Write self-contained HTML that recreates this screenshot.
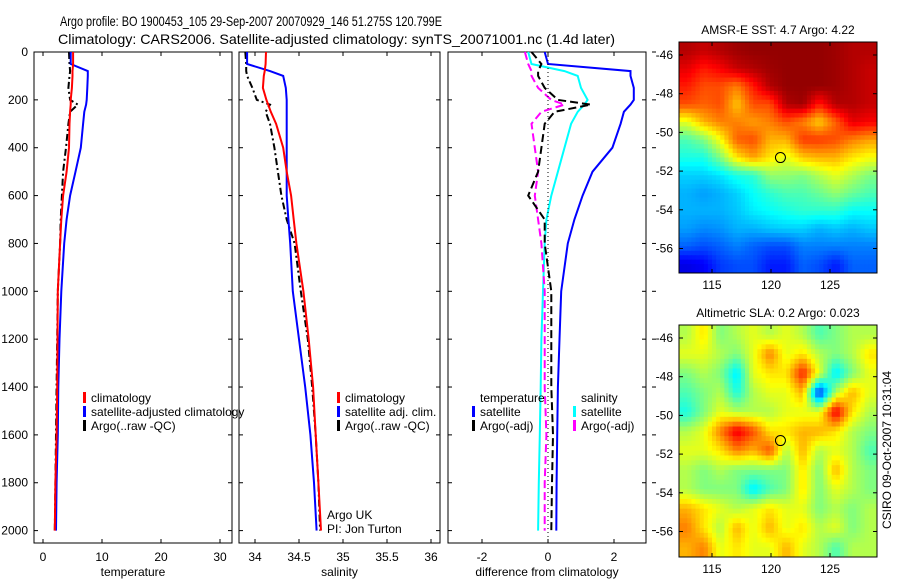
<!DOCTYPE html>
<html><head><meta charset="utf-8"><style>
body{margin:0;background:#fff;}
svg{display:block;font-family:"Liberation Sans",sans-serif;}
</style></head><body>
<svg id="fig" width="900" height="580" viewBox="0 0 900 580">
<text x="60" y="26" font-size="14" textLength="382" lengthAdjust="spacingAndGlyphs">Argo profile: BO 1900453_105 29-Sep-2007 20070929_146 51.275S 120.799E</text>
<text x="58" y="44" font-size="14" textLength="557" lengthAdjust="spacingAndGlyphs">Climatology: CARS2006. Satellite-adjusted climatology: synTS_20071001.nc (1.4d later)</text>
<g id="layer"></g>
</svg>
<script>
// ---- profile data ----
const depths = [0,50,80,100,150,200,220,250,300,400,500,600,700,800,1000,1200,1400,1600,1800,2000];
const tempClim = [5.1,5.1,5.0,5.0,4.9,4.7,4.7,4.6,4.5,4.4,4.0,3.4,3.1,2.9,2.5,2.45,2.4,2.3,2.1,2.0];
const tempSat  = [4.7,4.7,7.6,7.6,7.5,7.4,7.3,7.0,6.8,6.4,5.5,4.6,4.0,3.6,3.1,2.8,2.6,2.5,2.3,2.2];
const tempArgo = [4.4,4.5,4.6,4.5,4.3,4.6,5.9,4.6,4.3,3.9,3.4,3.2,3.0,2.9,2.5,2.4,2.3,2.2,2.1,2.0];
const salClim = [34.125,34.12,34.11,34.10,34.09,34.13,34.15,34.18,34.24,34.32,34.36,34.41,34.44,34.47,34.55,34.61,34.66,34.69,34.72,34.75];
const salSat  = [33.91,33.91,34.17,34.32,34.35,34.36,34.36,34.36,34.36,34.36,34.36,34.36,34.38,34.40,34.43,34.50,34.57,34.63,34.67,34.70];
const salArgo = [33.89,33.90,33.90,33.91,33.97,34.02,34.17,34.12,34.17,34.22,34.26,34.30,34.36,34.45,34.52,34.60,34.65,34.69,34.72,34.74];
const diffTSat  = [-0.1,0.0,2.5,2.5,2.6,2.6,2.5,2.3,2.2,1.95,1.35,1.05,0.8,0.6,0.4,0.35,0.3,0.28,0.26,0.25];
const diffTArgo = [-0.5,-0.2,-0.3,-0.3,-0.1,0.3,1.3,0.2,-0.1,-0.2,-0.3,-0.6,-0.1,-0.1,0.1,0.1,0.1,0.15,0.12,0.1];
const diffSSat  = [-0.6,-0.5,0.5,0.9,1.0,1.2,1.1,0.9,0.7,0.5,0.3,0.1,-0.05,-0.1,-0.15,-0.2,-0.22,-0.25,-0.28,-0.3];
const diffSArgo = [-0.7,-0.6,-0.5,-0.5,-0.3,0.1,0.5,-0.2,-0.5,-0.4,-0.3,-0.4,-0.3,-0.2,-0.1,-0.1,-0.1,-0.05,-0.1,-0.1];
const depthTicks = [0,200,400,600,800,1000,1200,1400,1600,1800,2000];
const tempTicks = [0,10,20,30];
const salTicks = [34,34.5,35,35.5,36];
const diffTicks = [-2,0,2];
// ---- map data (jet colormap fraction 0..1), rows north->south ----
const sstGrid = [
[.95,.93,.95,.97,.98,.98,.98,.98,.98,.97,.95,.95],
[.9,.85,.88,.93,.95,.97,.98,.98,.98,.97,.95,.93],
[.85,.8,.8,.75,.85,.95,.98,.98,.98,.97,.95,.93],
[.8,.78,.8,.68,.8,.8,.95,.97,.85,.95,.95,.93],
[.6,.7,.75,.75,.72,.75,.8,.75,.67,.78,.9,.88],
[.45,.5,.62,.78,.8,.7,.7,.82,.82,.8,.75,.72],
[.4,.4,.5,.65,.72,.65,.6,.68,.7,.7,.65,.62],
[.33,.33,.35,.4,.42,.52,.52,.5,.55,.6,.55,.5],
[.3,.28,.3,.33,.38,.42,.45,.45,.48,.52,.48,.45],
[.3,.3,.3,.32,.36,.38,.4,.42,.42,.42,.38,.38],
[.28,.26,.27,.3,.3,.32,.33,.33,.3,.32,.3,.32],
[.22,.2,.22,.25,.22,.2,.2,.25,.25,.25,.25,.25],
[.1,.12,.18,.2,.2,.15,.15,.22,.2,.15,.22,.22]];
const slaGrid = [
[.55,.65,.5,.55,.6,.55,.6,.55,.45,.5,.55,.55],
[.6,.6,.55,.5,.6,.75,.6,.65,.55,.5,.55,.65],
[.5,.55,.5,.35,.6,.65,.65,.85,.6,.35,.5,.6],
[.45,.5,.55,.4,.55,.6,.6,.7,.15,.55,.7,.6],
[.4,.5,.6,.55,.55,.55,.6,.6,.6,.9,.65,.55],
[.55,.6,.75,.9,.8,.65,.65,.7,.7,.65,.55,.5],
[.6,.6,.65,.75,.7,.8,.55,.7,.55,.6,.55,.45],
[.55,.5,.55,.5,.5,.5,.5,.65,.5,.7,.55,.5],
[.55,.5,.5,.5,.35,.45,.5,.65,.5,.6,.55,.5],
[.7,.65,.6,.55,.6,.65,.6,.6,.5,.55,.5,.55],
[.75,.65,.55,.7,.6,.7,.6,.65,.55,.6,.5,.55],
[.7,.75,.6,.65,.6,.6,.7,.6,.55,.45,.55,.55]];
const lonTicks = [115,120,125];
const latTicks = [-46,-48,-50,-52,-54,-56];
const argoLon = 120.8, argoLat = -51.3;

const NS="http://www.w3.org/2000/svg";
const L=document.getElementById('layer');
function mk(t,a,p){const e=document.createElementNS(NS,t);for(const k in a)e.setAttribute(k,a[k]);(p||L).appendChild(e);return e;}
function txt(x,y,s,size,anchor,p){const e=mk('text',{x:x,y:y,'font-size':size,'text-anchor':anchor||'middle'},p);e.textContent=s;return e;}
const yD=d=>52+d*0.2393;
const PB=543;

function panel(name,x0,x1,xs,ticks,xlabel,series,leftLabels,rightTicks){
  const g=mk('g',{});
  
  
  mk('rect',{x:x0,y:52,width:x1-x0,height:PB-52,fill:'#fff',stroke:'#000','stroke-width':1},g);
  depthTicks.forEach(d=>{const y=yD(d);
    mk('line',{x1:x0,y1:y,x2:x0+4,y2:y,stroke:'#000'},g);mk('line',{x1:x1-4,y1:y,x2:x1,y2:y,stroke:'#000'},g);
    if(leftLabels){const t=txt(x0-6,y+4,String(d),12,'end',g);}
    if(rightTicks) mk('line',{x1:x1+6,y1:y,x2:x1+10,y2:y,stroke:'#000'},g);
  });
  ticks.forEach(v=>{const x=xs(v);
    mk('line',{x1:x,y1:52,x2:x,y2:56,stroke:'#000'},g);mk('line',{x1:x,y1:PB-4,x2:x,y2:PB,stroke:'#000'},g);
    const t=txt(x,561,String(v),12,'middle',g);});
  const xl=txt((x0+x1)/2,576,xlabel,12,'middle',g);
  
  series.forEach(s=>{
    const pts=s.v.map((v,i)=>xs(v).toFixed(1)+','+yD(depths[i]).toFixed(1)).join(' ');
    const p=mk('polyline',{points:pts,fill:'none',stroke:s.c,'stroke-width':s.w||2,'stroke-dasharray':s.dash||'none'},g);
    
    
  });
  return g;
}
const xT=v=>43+5.9*v, xS=v=>255+88*(v-34), xDf=v=>548+33*v;
panel('temperature-panel',34,232,xT,tempTicks,'temperature',[
 {v:tempArgo,c:'#000',dash:'7,3,2,3',n:'argo-temperature-line'},
 {v:tempSat,c:'#0000ff',n:'satellite-temperature-line'},
 {v:tempClim,c:'#ff0000',n:'climatology-temperature-line'}],true,false);
panel('salinity-panel',239,440,xS,salTicks,'salinity',[
 {v:salArgo,c:'#000',dash:'7,3,2,3',n:'argo-salinity-line'},
 {v:salSat,c:'#0000ff',n:'satellite-salinity-line'},
 {v:salClim,c:'#ff0000',n:'climatology-salinity-line'}],false,false);
const dp=panel('difference-panel',448,646,xDf,diffTicks,'difference from climatology',[
 {v:diffSSat,c:'#00ffff',n:'salinity-satellite-diff-line'},
 {v:diffSArgo,c:'#ff00ff',dash:'8,4',n:'salinity-argo-diff-line'},
 {v:diffTArgo,c:'#000',dash:'8,4',n:'temperature-argo-diff-line'},
 {v:diffTSat,c:'#0000ff',n:'temperature-satellite-diff-line'}],false,true);
mk('line',{x1:xDf(0),y1:52,x2:xDf(0),y2:PB,stroke:'#000','stroke-dasharray':'1,3','stroke-width':1},dp);

function legend(name,x,y,items){
  const g=mk('g',{});
  items.forEach((it,i)=>{const yy=y+i*14;
    if(it.c) mk('rect',{x:x,y:yy-10,width:3,height:11,fill:it.c},g);
    const t=txt(x+8,yy,it.t,12,'start',g);
    });
}
legend('temperature-legend',83,402,[{c:'#f00',t:'climatology'},{c:'#00f',t:'satellite-adjusted climatology'},{c:'#000',t:'Argo(..raw -QC)'}]);
legend('salinity-legend',337,402,[{c:'#f00',t:'climatology'},{c:'#00f',t:'satellite adj. clim.'},{c:'#000',t:'Argo(..raw -QC)'}]);
legend('diff-temp-legend',472,402,[{t:'temperature'},{c:'#00f',t:'satellite'},{c:'#000',t:'Argo(-adj)'}]);
legend('diff-sal-legend',573,402,[{t:'salinity'},{c:'#0ff',t:'satellite'},{c:'#f0f',t:'Argo(-adj)'}]);
txt(327,519,'Argo UK',12,'start');
txt(327,533,'PI: Jon Turton',12,'start');

function jet(v){v=Math.max(0,Math.min(1,v));
  const r=Math.max(0,Math.min(1,Math.min(4*v-1.5,-4*v+4.5)));
  const g=Math.max(0,Math.min(1,Math.min(4*v-0.5,-4*v+3.5)));
  const b=Math.max(0,Math.min(1,Math.min(4*v+0.5,-4*v+2.5)));
  return `rgb(${Math.round(r*255)},${Math.round(g*255)},${Math.round(b*255)})`;}

function sample(grid,fr,fc){
  const R=grid.length,C=grid[0].length;
  const r=Math.max(0,Math.min(R-1,fr)),c=Math.max(0,Math.min(C-1,fc));
  const r0=Math.floor(r),c0=Math.floor(c),r1=Math.min(R-1,r0+1),c1=Math.min(C-1,c0+1);
  const ar=r-r0,ac=c-c0;
  return grid[r0][c0]*(1-ar)*(1-ac)+grid[r0][c1]*(1-ar)*ac+grid[r1][c0]*ar*(1-ac)+grid[r1][c1]*ar*ac;
}
function map(name,title,grid,x0,y0,x1,y1,latY46){
  const g=mk('g',{});
  const lonX=lon=>771+11.8*(lon-120);
  const latY=lat=>latY46+19.35*(-46-lat);
  const rows=grid.length, cols=grid[0].length, S=4;
  const cw=(x1-x0)/(cols*S), ch=(y1-y0)/(rows*S);
  for(let r=0;r<rows*S;r++)for(let c=0;c<cols*S;c++){
    const v=sample(grid,(r+0.5)/S-0.5,(c+0.5)/S-0.5);
    const cell=mk('rect',{x:(x0+c*cw).toFixed(2),y:(y0+r*ch).toFixed(2),width:(cw+0.5).toFixed(2),height:(ch+0.5).toFixed(2),fill:jet(v)},g);
    
    
  }
  mk('rect',{x:x0,y:y0,width:x1-x0,height:y1-y0,fill:'none',stroke:'#000'},g);
  lonTicks.forEach(l=>{const x=lonX(l);mk('line',{x1:x,y1:y0,x2:x,y2:y0+4,stroke:'#000'},g);mk('line',{x1:x,y1:y1-4,x2:x,y2:y1,stroke:'#000'},g);
    const t=txt(x,y1+16,String(l),12,'middle',g);});
  latTicks.forEach(l=>{const y=latY(l);mk('line',{x1:x0,y1:y,x2:x0+4,y2:y,stroke:'#000'},g);mk('line',{x1:x1-4,y1:y,x2:x1,y2:y,stroke:'#000'},g);
    const t=txt(x0-6,y+4,String(l),12,'end',g);});
  const c=mk('circle',{cx:lonX(argoLon),cy:latY(argoLat),r:5,fill:'none',stroke:'#000','stroke-width':1},g);
  
  const t=txt((x0+x1)/2,y0-8,title,12,'middle',g);
}
map('sst-map','AMSR-E SST: 4.7 Argo: 4.22',sstGrid,679,42,877,273,55);
map('sla-map','Altimetric SLA: 0.2 Argo: 0.023',slaGrid,679,325,877,557,338);
const cs=txt(0,0,'CSIRO 09-Oct-2007 10:31:04',12,'middle');
cs.setAttribute('transform','translate(891,450) rotate(-90)');

</script>
</body></html>
